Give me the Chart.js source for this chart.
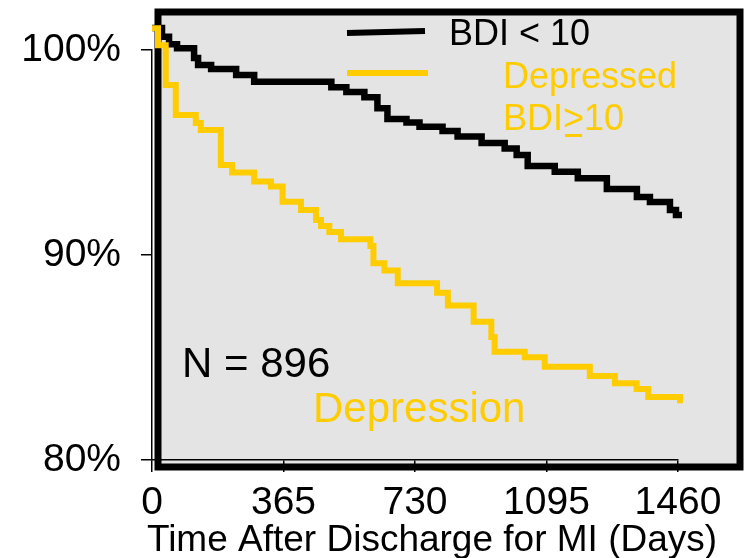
<!DOCTYPE html>
<html>
<head>
<meta charset="utf-8">
<script src="https://cdn.jsdelivr.net/npm/chart.js@4.4.1/dist/chart.umd.min.js"></script>
<style>
  html,body{margin:0;padding:0;background:#fff}
  canvas{display:block}
</style>
</head>
<body>
<canvas id="km" width="744" height="558"></canvas>
<script>
// survival steps (day of drop, % surviving after it)
const nonDepDays = [0, 27.8, 47.3, 69.5, 116.8, 127.9, 164.1, 233.6, 283.6, 497.8, 539.5, 589.5, 625.7, 653.5, 706.3, 742.5, 806.5, 848.2, 914.9, 978.9, 1012.2, 1042.8, 1117.9, 1181.9, 1262.5, 1345.9, 1382.1, 1437.7, 1454.4, 1471];
const nonDepPct  = [101.07, 100.65, 100.28, 100.08, 99.61, 99.27, 99.07, 98.78, 98.45, 98.18, 97.95, 97.69, 97.16, 96.63, 96.46, 96.26, 96.05, 95.78, 95.46, 95.20, 94.88, 94.34, 94.06, 93.74, 93.22, 92.83, 92.59, 92.20, 91.95, 91.95];
const depDays = [0, 16.7, 38.1, 65.9, 121.5, 135.4, 191.0, 222.5, 283.6, 330.1, 362.4, 413.5, 455.2, 469.1, 492.2, 524.7, 606.2, 614.6, 645.2, 682.1, 791.2, 821.2, 892.7, 941.9, 951.1, 1034.5, 1090.1, 1215.2, 1284.8, 1345.1, 1377.4, 1465.5, 1471];
const depPct  = [101.06, 100.23, 98.29, 96.83, 96.44, 96.10, 94.39, 94.02, 93.58, 93.34, 92.60, 92.20, 91.71, 91.41, 91.12, 90.77, 90.44, 89.60, 89.24, 88.62, 88.16, 87.54, 86.75, 86.00, 85.28, 85.01, 84.55, 84.10, 83.74, 83.46, 83.07, 82.77, 82.77];
const xTicks = [0, 365, 730, 1095, 1460];
const yTicks = [80, 90, 100];

const YELLOW = "#ffcc00";
const FONT = "'Liberation Sans', Arial, sans-serif";
const pts = (xs, ys) => xs.map((x, i) => ({x, y: ys[i]}));

// grey box with the heavy black frame behind the plot
const framePlugin = {
  id: "frame",
  beforeDraw(chart){
    const {ctx, chartArea: a} = chart;
    const L = a.left + 6, T = a.top - 38, R = a.right + 62, B = a.bottom + 7;
    ctx.save();
    ctx.fillStyle = "#e4e4e4";
    ctx.fillRect(L, T, R - L, B - T);
    ctx.lineWidth = 7;
    ctx.strokeStyle = "#000";
    ctx.strokeRect(L, T, R - L, B - T);
    ctx.restore();
  }
};

// legend, notes and axis title
const notesPlugin = {
  id: "notes",
  afterDraw(chart){
    const {ctx, chartArea: a} = chart;
    const X = a.left, Y = a.top;
    ctx.save();
    ctx.lineCap = "butt";
    ctx.lineWidth = 6;
    ctx.strokeStyle = "#000";
    ctx.beginPath(); ctx.moveTo(X + 195, Y - 17); ctx.lineTo(X + 273, Y - 19); ctx.stroke();
    ctx.strokeStyle = YELLOW;
    ctx.beginPath(); ctx.moveTo(X + 195, Y + 23); ctx.lineTo(X + 276, Y + 23); ctx.stroke();

    ctx.textBaseline = "alphabetic";
    ctx.textAlign = "left";
    ctx.font = "36px " + FONT;
    ctx.fillStyle = "#000";
    ctx.fillText("BDI < 10", X + 297, Y - 5);
    ctx.fillStyle = YELLOW;
    ctx.fillText("Depressed", X + 351, Y + 38);
    const bx = X + 351, by = Y + 80;
    ctx.fillText("BDI", bx, by);
    const w1 = ctx.measureText("BDI").width;
    ctx.fillText(">", bx + w1, by);
    const w2 = ctx.measureText(">").width;
    ctx.fillText("10", bx + w1 + w2, by);
    ctx.fillRect(bx + w1 + 2, by + 4, w2 - 4, 3);

    ctx.font = "42px " + FONT;
    ctx.fillStyle = "#000";
    ctx.fillText("N = 896", X + 30, Y + 327);
    ctx.fillStyle = YELLOW;
    ctx.fillText("Depression", X + 161, Y + 372);

    ctx.font = "37px " + FONT;
    ctx.fillStyle = "#000";
    ctx.textAlign = "center";
    ctx.fillText("Time After Discharge for MI (Days)", (a.left + a.right) / 2 + 17, 551);
    ctx.restore();
  }
};

new Chart(document.getElementById("km"), {
  type: "line",
  data: {
    datasets: [
      {label: "BDI < 10", data: pts(nonDepDays, nonDepPct), borderColor: "#000", borderWidth: 6.5, order: 1},
      {label: "Depressed BDI≥10", data: pts(depDays, depPct), borderColor: YELLOW, borderWidth: 6, order: 0}
    ]
  },
  options: {
    responsive: false,
    animation: false,
    devicePixelRatio: 1,
    layout: {padding: {top: 50, right: 66, left: 0, bottom: 0}},
    elements: {
      line: {stepped: true, fill: false, borderJoinStyle: "miter", borderCapStyle: "butt"},
      point: {radius: 0}
    },
    datasets: {line: {clip: false}},
    plugins: {legend: {display: false}, tooltip: {enabled: false}},
    scales: {
      x: {
        type: "linear", min: 0, max: 1460,
        afterBuildTicks: s => { s.ticks = xTicks.map(v => ({value: v})); },
        afterFit: s => { s.height = 98; },
        grid: {display: true, drawOnChartArea: false, drawTicks: true, tickLength: 12, color: "#000", lineWidth: 1.5},
        border: {display: true, color: "#000", width: 1.5},
        ticks: {color: "#000", padding: 8, maxRotation: 0, font: {family: FONT, size: 39}, callback: v => String(v)}
      },
      y: {
        min: 80, max: 100,
        afterBuildTicks: s => { s.ticks = yTicks.map(v => ({value: v})); },
        afterFit: s => { s.width = 152; },
        grid: {display: true, drawOnChartArea: false, drawTicks: true, tickLength: 11, color: "#000", lineWidth: 1.5},
        border: {display: true, color: "#000", width: 1.5},
        ticks: {color: "#000", padding: 20, font: {family: FONT, size: 39}, callback: v => v + "%"}
      }
    }
  },
  plugins: [framePlugin, notesPlugin]
});
</script>
</body>
</html>
